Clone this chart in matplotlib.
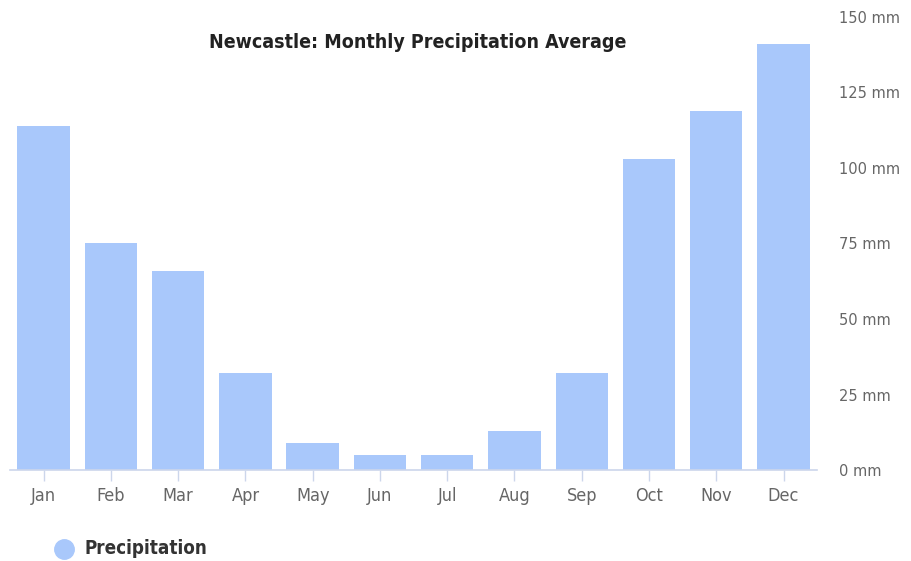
import matplotlib
matplotlib.use("Agg")
from matplotlib import pyplot as plt

months = ["Jan", "Feb", "Mar", "Apr", "May", "Jun",
          "Jul", "Aug", "Sep", "Oct", "Nov", "Dec"]
precip = [114, 75, 66, 32, 9, 5, 5, 13, 32, 103, 119, 141]
yticks = [0, 25, 50, 75, 100, 125, 150]
ytick_labels = ["{} mm".format(v) for v in yticks]

bar_color = "#a9c8fb"
axis_color = "#ccd6eb"
label_color = "#666666"

fig = plt.figure(figsize=(9.12, 5.61), dpi=100)
ax = fig.add_axes([0.011, 0.162, 0.885, 0.808])

x = range(len(months))
ax.bar(x, precip, width=0.78, color=bar_color, zorder=2)

ax.set_xlim(-0.5, len(months) - 0.5)
ax.set_ylim(0, 150)

ax.set_xticks(list(x))
ax.set_xticklabels(months, fontsize=13, color=label_color, stretch="condensed")
ax.tick_params(axis="x", length=8, width=1, color=axis_color, pad=4)

ax.yaxis.tick_right()
ax.set_yticks(yticks)
ax.set_yticklabels(ytick_labels, fontsize=10.5, color=label_color)
ax.tick_params(axis="y", length=0, pad=16)

for side in ["top", "left", "right"]:
    ax.spines[side].set_visible(False)
ax.spines["bottom"].set_color(axis_color)
ax.spines["bottom"].set_linewidth(1.2)

fig.text(0.458, 0.925, "Newcastle: Monthly Precipitation Average",
         ha="center", va="center", fontsize=14, fontweight="bold",
         color="#222222", stretch="condensed")

# legend
fig.lines.append(plt.Line2D([64 / 912], [1 - 549 / 561], marker="o",
                            markersize=14, color=bar_color, linestyle="none",
                            transform=fig.transFigure, figure=fig))
fig.text(85 / 912, 1 - 549 / 561, "Precipitation", ha="left", va="center",
         fontsize=13.5, fontweight="bold", color="#333333", stretch="condensed")

plt.savefig("out.png", dpi=100)
